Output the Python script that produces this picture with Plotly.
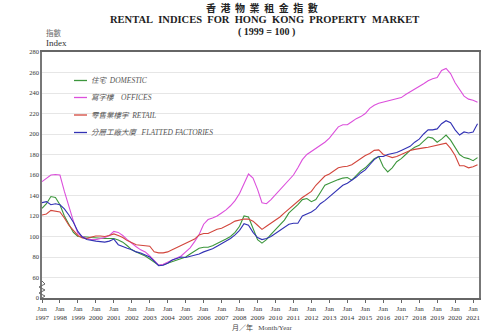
import pandas as pd
import plotly.graph_objects as go

# Quarterly readings (Jan, Apr, Jul, Oct), Jan 1997 - Apr 2021, 1999 = 100
domestic = [
    127.5, 132, 139, 138,
    131, 120, 112, 104,
    100, 100, 99.5, 99,
    98.5, 98, 98, 98,
    98, 96.5, 94.5, 91,
    87, 85, 83, 81,
    78, 75, 72, 72.5,
    74, 75.5, 77, 78,
    80, 83, 86, 88.5,
    89.5, 89.5, 91, 93,
    95, 97.5, 100, 104,
    110, 120, 119, 107,
    97, 93.5, 97, 102,
    107, 111, 116, 123,
    127, 131, 136, 137,
    134, 136, 143, 150,
    152, 154, 155.5, 157,
    157.5, 155, 159, 164,
    167, 171, 176, 178,
    168, 163, 167, 173,
    176, 180, 184, 187,
    189, 193, 197, 196,
    192, 195, 199, 194,
    187, 180, 177, 176,
    174, 177,
]
offices = [
    153.5, 157, 160, 160.5,
    160, 144, 129, 115,
    103, 100, 98, 97,
    97, 98, 99, 101,
    105, 104, 101, 97,
    93, 90, 87, 85,
    81, 76, 72, 73,
    75, 77, 79, 81,
    85, 89, 95, 102,
    112, 116.5, 118, 120,
    123, 126, 130, 135,
    142, 152, 161, 157,
    146, 133, 132, 136,
    141, 146, 151, 155,
    160, 167, 175, 180,
    183, 186, 189, 192,
    196, 201, 207, 209,
    209, 212, 215, 217,
    220, 225, 228, 230,
    231, 232, 233, 234,
    235.5, 238.5, 241, 244,
    246.5, 249, 252, 254,
    255, 262, 264, 259,
    250, 244, 237, 234,
    233, 231,
]
retail = [
    121, 122, 125.5, 124.5,
    124, 118, 111, 106,
    101, 98.5, 98, 99.5,
    100.5, 100.5, 100, 101,
    102.5, 101, 99, 96,
    94, 92, 91.5, 91,
    90.5, 85, 84, 84,
    85, 87, 89, 91.5,
    93, 95, 97.5, 101.5,
    103, 103, 105, 107,
    108, 110, 112.5, 115,
    116, 117, 117, 115,
    111, 107, 110, 113,
    116, 119, 123, 127,
    130, 134, 138, 141,
    144, 150, 155, 159,
    161, 164, 167, 168,
    168.5, 170, 173, 176,
    179, 181, 184, 184.5,
    180, 178.5, 177, 178,
    180, 182, 184, 185,
    186, 186.5, 187, 188,
    189, 190, 191, 186,
    179, 169, 169, 167,
    168, 170,
]
factories = [
    133, 134, 131, 132,
    131, 127, 121, 114,
    105, 99.5, 97, 96,
    95.5, 95, 94.5, 95.5,
    97.5, 92, 90, 88.5,
    87, 85, 84, 82,
    80, 76, 71.5, 72,
    74, 77, 78.5, 80,
    79.5, 80.5, 82, 83,
    85, 86.5, 88, 90.5,
    93, 95.5, 98, 101.5,
    106, 112.5, 111, 104,
    99, 97, 98, 100,
    103, 106, 109, 112,
    113, 113, 120, 122,
    124, 127, 132, 135,
    139, 143, 147, 150,
    152, 155, 158, 162,
    165, 170, 175, 178,
    178, 180, 181, 182,
    184, 186, 188, 192,
    195, 200, 204, 204,
    205, 210, 213, 211,
    204, 199, 202, 201,
    202, 210,
]

NB = "\u00a0"
series_names = ["住宅" + NB * 2 + "DOMESTIC", "寫字樓" + NB * 4 + "OFFICES",
                "零售業樓宇" + NB * 2 + "RETAIL", "分層工廠大廈" + NB * 3 + "FLATTED FACTORIES"]
series_values = [domestic, offices, retail, factories]
series_colors = ["#3c963c", "#dc50dc", "#d2463c", "#3232b4"]

y_tick_vals = [40, 60, 80, 100, 120, 140, 160, 180, 200, 220, 240, 260, 280]
y_tick_text = ["0", "60", "80", "100", "120", "140", "160", "180", "200", "220", "240", "260", "280"]

dates = pd.date_range("1997-01-01", periods=len(domestic), freq="QS")

SERIF = "Liberation Serif, Noto Sans CJK TC, serif"

fig = go.Figure()
for name, vals, col in zip(series_names, series_values, series_colors):
    fig.add_trace(go.Scatter(x=dates, y=vals, mode="lines", name=name,
                             line=dict(color=col, width=1.1), showlegend=False))

# plot-area geometry (pixels)
L, R, T, B = 42, 21, 52, 36
W, H = 500 - L - R, 334 - T - B

def px(xp):
    return (xp - L) / W

def py(yp):
    return (334 - B - yp) / H

shapes = []
# white legend box over gridlines
shapes.append(dict(type="rect", xref="paper", yref="paper", x0=px(64), x1=px(223),
                   y0=py(142), y1=py(66), fillcolor="white", line=dict(width=0), layer="between"))
annotations = []
legend_y = [80.5, 97.5, 115, 132.5]
for name, col, ly in zip(series_names, series_colors, legend_y):
    shapes.append(dict(type="line", xref="paper", yref="paper", x0=px(74), x1=px(87),
                       y0=py(ly), y1=py(ly), line=dict(color=col, width=1.3)))
    annotations.append(dict(x=px(89), y=py(ly), xref="paper", yref="paper", xanchor="left",
                            yanchor="middle", showarrow=False, text="<i>" + name + "</i>",
                            font=dict(family=SERIF, size=7.5, color="#555")))

# axis break zigzag
zig = [(42, 281), (45, 284), (39, 287), (45, 290), (39, 293), (45, 296), (42, 298)]
path = "M " + " L ".join(f"{px(a)},{py(b)}" for a, b in zig)
shapes.append(dict(type="path", xref="paper", yref="paper", path=path,
                   line=dict(color="#666", width=1)))


def top_text(txt, xp, yp, size, bold=False, color="#222", family=SERIF):
    annotations.append(dict(x=px(xp), y=py(yp), xref="paper", yref="paper", xanchor="center",
                            yanchor="middle", showarrow=False,
                            text=("<b>" + txt + "</b>") if bold else txt,
                            font=dict(family=family, size=size, color=color)))

top_text((NB * 2).join("香港物業租金指數"), 262, 7, 10, bold=True, family="Noto Sans CJK TC")
top_text((NB * 2).join(["RENTAL", "INDICES", "FOR", "HONG", "KONG", "PROPERTY", "MARKET"]),
         264, 20, 10.5, bold=True)
top_text("(" + NB + "1999" + NB + "=" + NB + "100" + NB + ")", 266, 32, 10, bold=True)
top_text("指數", 54, 32, 7.5, color="#666", family="Noto Sans CJK TC")
top_text("Index", 56, 43, 9, color="#333")
top_text("月／年" + NB * 3 + "Month/Year", 262, 327, 7, color="#444")

fig.update_layout(
    width=500, height=334,
    margin=dict(l=L, r=R, t=T, b=B),
    paper_bgcolor="white", plot_bgcolor="white",
    shapes=shapes, annotations=annotations,
    xaxis=dict(type="date", range=["1997-01-01", "2021-05-01"], tick0="1997-01-01", dtick="M12",
               tickformat="%b<br>%Y", tickfont=dict(family=SERIF, size=7, color="#333"),
               showgrid=False, showline=True, linecolor="#666", linewidth=1.5, mirror=True,
               ticks="outside", ticklen=3, tickcolor="#666", zeroline=False),
    yaxis=dict(range=[40, 280], tickvals=y_tick_vals, ticktext=y_tick_text,
               tickfont=dict(family=SERIF, size=6.5, color="#333"),
               showgrid=True, gridcolor="#e6e6e6", gridwidth=1,
               showline=True, linecolor="#777", linewidth=1.5, mirror=True,
               ticks="", zeroline=False),
)

fig.write_html("out.html")
